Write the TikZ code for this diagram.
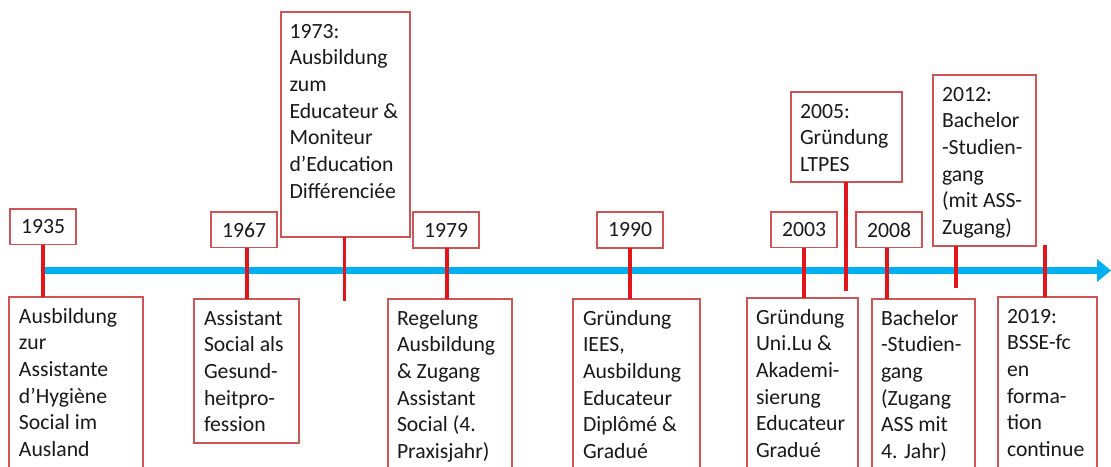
\documentclass[tikz,border=0pt]{standalone}
\usepackage{fontspec}
\setmainfont{Carlito}
\usetikzlibrary{arrows.meta,calc}
\definecolor{tlblue}{RGB}{0,176,240}
\definecolor{stickred}{RGB}{226,20,28}
\definecolor{boxred}{RGB}{205,85,85}
\definecolor{txtcol}{RGB}{25,25,25}
\newcommand{\boxlines}[1]{\begin{tabular}[t]{@{}l@{}}#1\end{tabular}}
\begin{document}
\begin{tikzpicture}[x=1pt,y=-1pt,
  every node/.style={inner sep=0pt, outer sep=0pt, text=txtcol,
    font=\fontsize{21.7}{26.7}\selectfont},
  frame/.style={draw=boxred, line width=1.1pt, fill=white, anchor=north west},
  yearbox/.style={frame, minimum width=66pt, minimum height=35.5pt},
  descbox/.style={frame, minimum height=200pt},
  txt/.style={anchor=base west},
  stick/.style={draw=stickred, line width=3.4pt},
  timeline/.style={draw=tlblue, line width=7pt, -{Triangle[length=14pt,width=22pt]}}
]
\useasboundingbox (0,0) rectangle (1111,466);
\clip (0,0) rectangle (1111,466);
\fill[white] (0,0) rectangle (1111,466);

% timeline
\coordinate (tl0) at (43,270.5);
\coordinate (tl1) at (1111,270.5);
\draw[timeline] (tl0) -- (tl1);

% stick positions
\coordinate (s1935) at (43,270);
\coordinate (s1967) at (247,270);
\coordinate (s1973) at (344.5,270);
\coordinate (s1979) at (447,270);
\coordinate (s1990) at (630,270);
\coordinate (s2003) at (804,270);
\coordinate (s2005) at (846,270);
\coordinate (s2008) at (887,270);
\coordinate (s2012) at (956,270);
\coordinate (s2019) at (1045,270);
\coordinate (e1973) at (344.5,301);
\coordinate (e2005) at (846,291);
\coordinate (e2012) at (956,288);
\coordinate (b2019) at (1045,245);

% year boxes (top)
\node[yearbox] (y1935) at (10,209) {1935};
\node[yearbox] (y1967) at (211,212) {1967};
\node[yearbox, minimum width=129pt, minimum height=225pt] (y1973) at (281,12) {};
\node[yearbox, minimum height=36pt] (y1979) at (413,212) {1979};
\node[yearbox, minimum height=36pt] (y1990) at (597,212) {1990};
\node[yearbox] (y2003) at (771,212) {2003};
\node[yearbox, minimum width=111pt, minimum height=90pt] (y2005) at (791,92) {};
\node[yearbox] (y2008) at (856,212) {2008};
\node[yearbox, minimum width=103pt, minimum height=171pt] (y2012) at (933,75) {};

% description boxes (bottom)
\node[descbox, minimum width=134pt] (d1935) at (9,297) {};
\node[descbox, minimum width=105pt, minimum height=144pt] (d1967) at (194,299) {};
\node[descbox, minimum width=124pt] (d1979) at (388,299) {};
\node[descbox, minimum width=127pt] (d1990) at (573,299) {};
\node[descbox, minimum width=111pt] (d2003) at (747,298) {};
\node[descbox, minimum width=103pt] (d2008) at (872,299) {};
\node[descbox, minimum width=99pt] (d2019) at (998,297) {};

% sticks
\draw[stick] (s1935 |- y1935.south) -- (s1935 |- d1935.north);
\draw[stick] (s1967 |- y1967.south) -- (s1967 |- d1967.north);
\draw[stick] (s1973 |- y1973.south) -- (e1973);
\draw[stick] (s1979 |- y1979.south) -- (s1979 |- d1979.north);
\draw[stick] (s1990 |- y1990.south) -- (s1990 |- d1990.north);
\draw[stick] (s2003 |- y2003.south) -- (s2003 |- d2003.north);
\draw[stick] (s2005 |- y2005.south) -- (e2005);
\draw[stick] (s2008 |- y2008.south) -- (s2008 |- d2008.north);
\draw[stick] (s2012 |- y2012.south) -- (e2012);
\draw[stick] (b2019) -- (b2019 |- d2019.north);

% texts in top boxes
\node[txt] (t1973) at ($(y1973.north west)+(8.5,26)$) {\boxlines{1973:\\Ausbildung\\zum\\Educateur \&\\Moniteur\\d’Education\\Différenciée}};
\node[txt] (t2005) at ($(y2005.north west)+(9,26)$) {\boxlines{2005:\\Gründung\\LTPES}};
\node[txt] (t2012) at ($(y2012.north west)+(9,26)$) {\boxlines{2012:\\Bachelor\\-Studien-\\gang\\(mit ASS-\\Zugang)}};

% texts in bottom boxes
\node[txt] (t1935) at ($(d1935.north west)+(10,26)$) {\boxlines{Ausbildung\\zur\\Assistante\\d’Hygiène\\Social im\\Ausland}};
\node[txt] (t1967) at ($(d1967.north west)+(10,26)$) {\boxlines{Assistant\\Social als\\Gesund-\\heitpro-\\fession}};
\node[txt] (t1979) at ($(d1979.north west)+(9,26)$) {\boxlines{Regelung\\Ausbildung\\\& Zugang\\Assistant\\Social (4.\\Praxisjahr)}};
\node[txt] (t1990) at ($(d1990.north west)+(10,26)$) {\boxlines{Gründung\\IEES,\\Ausbildung\\Educateur\\Diplômé \&\\Gradué}};
\node[txt] (t2003) at ($(d2003.north west)+(9,26)$) {\boxlines{Gründung\\Uni.Lu \&\\Akademi-\\sierung\\Educateur\\Gradué}};
\node[txt] (t2008) at ($(d2008.north west)+(9,26)$) {\boxlines{Bachelor\\-Studien-\\gang\\(Zugang\\ASS mit\\4. Jahr)}};
\node[txt] (t2019) at ($(d2019.north west)+(9,26)$) {\boxlines{2019:\\BSSE-fc\\en\\forma-\\tion\\continue}};
\end{tikzpicture}
\end{document}
